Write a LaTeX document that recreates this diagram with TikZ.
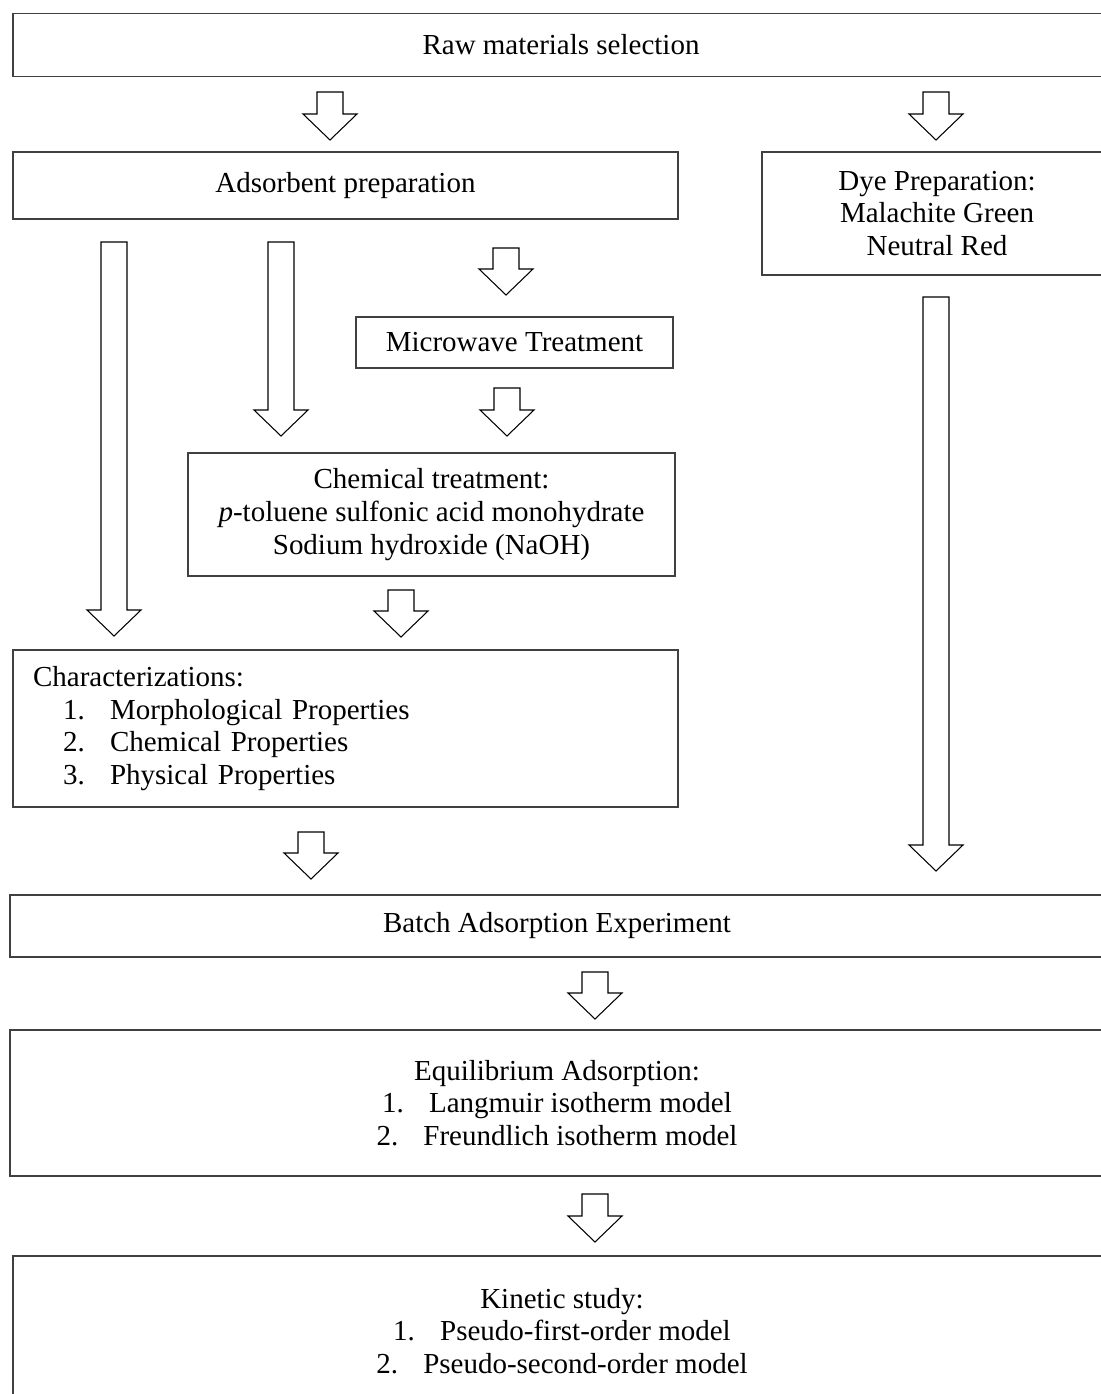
\documentclass[tikz,border=0pt]{standalone}
\usepackage{fontspec}
\setmainfont{Liberation Serif}
\usetikzlibrary{positioning}
\definecolor{BoxGray}{RGB}{64,64,64}
\newcommand\numitem[2]{\makebox[0.94cm][l]{#1}#2}

\begin{document}
\begin{tikzpicture}[
  x=0.02cm, y=-0.02cm,
  box/.style     = {draw=BoxGray, line width=0.85pt, align=center,
                    inner sep=0pt, font=\fontsize{16.5}{18.6}\selectfont},
  arrline/.style = {draw=black, line width=0.6pt, fill=white,
                    line join=miter},
  pics/barrow/.style = {code={
    \draw[arrline] (-13,0) -- (-13,#1-26) -- (-27,#1-26) -- (0,#1)
                   -- (27,#1-26) -- (13,#1-26) -- (13,0) -- cycle;}}
]
\useasboundingbox[fill=white] (0,0) rectangle (1101,1394);

\node[box, minimum width=21.92cm, minimum height=1.26cm] (raw) at (561,45)
  {Raw materials selection};
\node[box, minimum width=13.3cm, minimum height=1.34cm] (ads) at (345.5,185.5)
  {Adsorbent preparation};
\node[box, minimum width=7cm, minimum height=2.46cm] (dye) at (937,213.5)
  {Dye Preparation:\\ Malachite Green\\ Neutral Red};
\node[box, minimum width=6.34cm, minimum height=1.02cm] (micro) at (514.5,342.5)
  {Microwave Treatment};
\node[box, minimum width=9.74cm, minimum height=2.46cm] (chem) at (431.5,514.5)
  {Chemical treatment:\\ \textit{p}-toluene sulfonic acid monohydrate\\
   Sodium hydroxide (NaOH)};
\node[box, align=left, text width=12.5cm, inner xsep=0.4cm,
      minimum height=3.14cm] (char) at (345.5,728.5)
  {Characterizations:\\
   \hspace*{0.6cm}\numitem{1.}{Morphological Properties}\\
   \hspace*{0.6cm}\numitem{2.}{Chemical Properties}\\
   \hspace*{0.6cm}\numitem{3.}{Physical Properties}};
\node[box, minimum width=21.88cm, minimum height=1.24cm] (batch) at (557,926)
  {Batch Adsorption Experiment};
\node[box, minimum width=21.88cm, minimum height=2.92cm] (equil) at (557,1103)
  {Equilibrium Adsorption:\\
   \numitem{1.}{Langmuir isotherm model}\\
   \numitem{2.}{Freundlich isotherm model}};
\node[box, minimum width=21.96cm, minimum height=3.0cm] (kinetic) at (562,1331)
  {Kinetic study:\\
   \numitem{1.}{Pseudo-first-order model}\\
   \numitem{2.}{Pseudo-second-order model}};

% block arrows
\pic (rawads)    at (330,92)  {barrow=48};
\pic (rawdye)    at (936,92)  {barrow=48};
\pic (adschar)   at (114,242) {barrow=394};
\pic (adschem)   at (281,242) {barrow=194};
\pic (adsmicro)  at (506,248) {barrow=47};
\pic (microchem) at (507,388) {barrow=48};
\pic (chemchar)  at (401,590) {barrow=47};
\pic (dyebatch)  at (936,297) {barrow=574};
\pic (charbatch) at (311,832) {barrow=47};
\pic (batcheq)   at (595,972) {barrow=47};
\pic (eqkin)     at (595,1194) {barrow=48};
\end{tikzpicture}
\end{document}
